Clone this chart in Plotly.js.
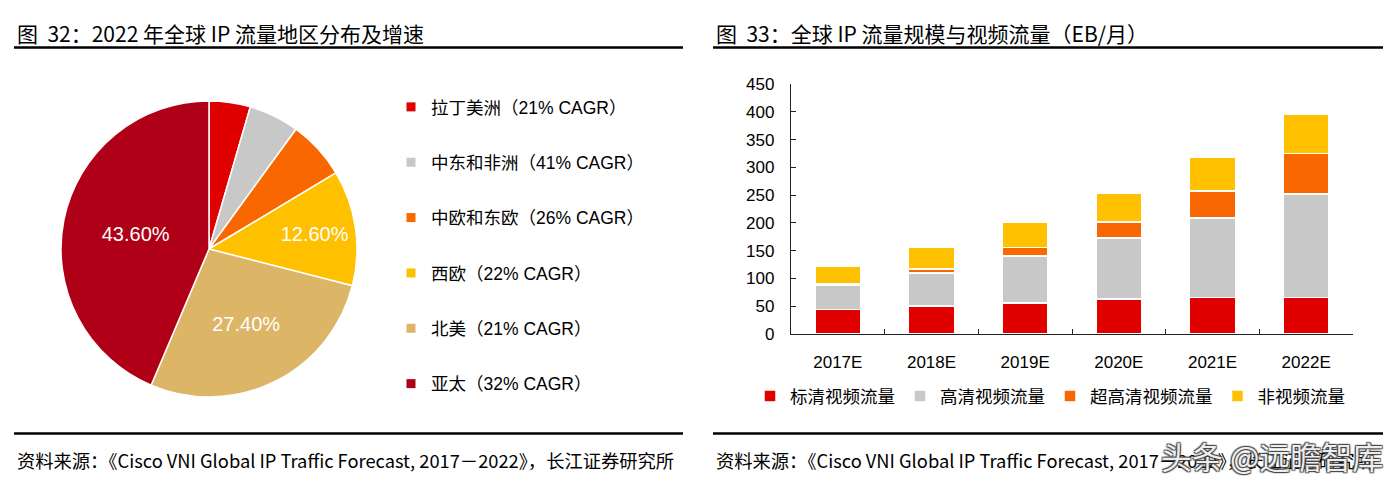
<!DOCTYPE html>
<html>
<head>
<meta charset="utf-8">
<script src="https://cdn.plot.ly/plotly-3.0.1.min.js"></script>
<style>
html,body{margin:0;padding:0;background:#fff;}
#chart{width:1397px;height:483px;}
</style>
</head>
<body>
<div id="chart"></div>
<script>
// ---------- data ----------
const regionLabels = ['拉丁美洲', '中东和非洲', '中欧和东欧', '西欧', '北美', '亚太'];
const regionCagr = ['21%', '41%', '26%', '22%', '21%', '32%'];
const regionShare = [4.5, 5.5, 6.4, 12.6, 27.4, 43.6];
const regionColors = ['#E00000', '#C8C8C8', '#F96800', '#FFC000', '#DDB566', '#B00018'];

const years = ['2017E', '2018E', '2019E', '2020E', '2021E', '2022E'];
const seriesNames = ['标清视频流量', '高清视频流量', '超高清视频流量', '非视频流量'];
const sdVideo = [44, 50, 56, 63, 66, 66];
const hdVideo = [44, 60, 84, 110, 143, 186];
const uhdVideo = [2, 7, 16, 29, 48, 73];
const nonVideo = [32, 39, 45, 52, 62, 71];
const seriesColors = ['#E00000', '#C8C8C8', '#F96800', '#FFC000'];
const yTicks = [0, 50, 100, 150, 200, 250, 300, 350, 400, 450];

const leftTitle = '图  32：2022 年全球 IP 流量地区分布及增速';
const rightTitle = '图  33：全球 IP 流量规模与视频流量（EB/月）';
const sourceText = '资料来源：《Cisco VNI Global IP Traffic Forecast, 2017－2022》，长江证券研究所';
const watermark = '头条 @远瞻智库';

// ---------- helpers ----------
const W = 1397, H = 483;
const px = v => v / W;
const py = v => 1 - v / H;
const narrow = '"Noto Sans CJK SC", sans-serif';
const cjk = '"Noto Sans CJK SC", "Microsoft YaHei", sans-serif';
const arial = '"Liberation Sans", Arial, "Noto Sans CJK SC", sans-serif';

const traces = [];

// pie
traces.push({
  type: 'pie',
  labels: regionLabels,
  values: regionShare,
  text: regionShare.map(v => v > 10 ? v.toFixed(2) + '%' : ''),
  textinfo: 'text',
  textposition: 'inside',
  insidetextorientation: 'horizontal',
  textfont: {family: arial, size: 20, color: '#ffffff'},
  marker: {colors: regionColors, line: {color: '#ffffff', width: 1.5}},
  sort: false,
  direction: 'clockwise',
  rotation: 0,
  showlegend: false,
  hoverinfo: 'label+percent',
  domain: {x: [px(61), px(357)], y: [py(397), py(101)]}
});

// pie legend (dummy entries)
regionLabels.forEach((lab, i) => {
  traces.push({
    type: 'scatter', mode: 'markers',
    x: [null], y: [null],
    name: lab + '（' + regionCagr[i] + ' CAGR）',
    legendgroup: 'g' + i,
    marker: {symbol: 'square', size: 9, color: regionColors[i]},
    legend: 'legend',
    showlegend: true,
    hoverinfo: 'skip'
  });
});

// stacked bars
[sdVideo, hdVideo, uhdVideo, nonVideo].forEach((arr, i) => {
  traces.push({
    type: 'bar',
    x: years, y: arr,
    name: seriesNames[i],
    marker: {color: seriesColors[i], line: {color: '#ffffff', width: 1.5}},
    legend: 'legend2',
    hovertemplate: '%{x} ' + seriesNames[i] + ': %{y}<extra></extra>'
  });
});

const lineStyle = {color: '#000000', width: 2.5};
const layout = {
  width: W, height: H,
  margin: {l: 0, r: 0, t: 0, b: 0},
  paper_bgcolor: '#ffffff',
  plot_bgcolor: '#ffffff',
  barmode: 'stack',
  bargap: 0.51,
  xaxis: {
    domain: [px(791), px(1353)],
    type: 'category',
    showline: true, linecolor: '#222222', linewidth: 1.3,
    ticks: 'inside', ticklen: 5, tickcolor: '#222222', tickwidth: 1.3,
    tickson: 'boundaries',
    showgrid: false, zeroline: false,
    ticklabelstandoff: 12,
    tickfont: {family: arial, size: 17, color: '#000000'},
    fixedrange: true
  },
  yaxis: {
    domain: [py(334), py(84)],
    range: [0, 450],
    tickvals: yTicks,
    showline: true, linecolor: '#222222', linewidth: 1.3,
    ticks: 'inside', ticklen: 5, tickcolor: '#222222', tickwidth: 1.3,
    showgrid: false, zeroline: false,
    ticklabelstandoff: 12,
    tickfont: {family: arial, size: 17, color: '#000000'},
    fixedrange: true
  },
  legend: {
    x: px(391), xanchor: 'left',
    y: py(89), yanchor: 'top',
    orientation: 'v',
    tracegroupgap: 29.6,
    font: {family: arial, size: 17.5, color: '#000000'},
    bgcolor: 'rgba(0,0,0,0)',
    itemclick: false, itemdoubleclick: false
  },
  legend2: {
    x: px(750), xanchor: 'left',
    y: py(396), yanchor: 'middle',
    orientation: 'h',
    traceorder: 'normal',
    font: {family: cjk, size: 17.5, color: '#000000'},
    bgcolor: 'rgba(0,0,0,0)',
    itemclick: false, itemdoubleclick: false
  },
  shapes: [
    {type: 'line', xref: 'paper', yref: 'paper', x0: px(14), x1: px(683), y0: py(47.5), y1: py(47.5), line: lineStyle},
    {type: 'line', xref: 'paper', yref: 'paper', x0: px(713), x1: px(1383), y0: py(47.5), y1: py(47.5), line: lineStyle},
    {type: 'line', xref: 'paper', yref: 'paper', x0: px(14), x1: px(683), y0: py(433.5), y1: py(433.5), line: lineStyle},
    {type: 'line', xref: 'paper', yref: 'paper', x0: px(713), x1: px(1383), y0: py(433.5), y1: py(433.5), line: lineStyle}
  ],
  annotations: [
    {text: leftTitle, xref: 'paper', yref: 'paper', x: px(15), y: py(33), xanchor: 'left', yanchor: 'middle', showarrow: false,
     font: {family: narrow, size: 21, color: '#000000'}},
    {text: rightTitle, xref: 'paper', yref: 'paper', x: px(714), y: py(33), xanchor: 'left', yanchor: 'middle', showarrow: false,
     font: {family: narrow, size: 21, color: '#000000'}},
    {text: sourceText, xref: 'paper', yref: 'paper', x: px(15), y: py(460), xanchor: 'left', yanchor: 'middle', showarrow: false,
     font: {family: narrow, size: 18.3, color: '#000000'}},
    {text: sourceText, xref: 'paper', yref: 'paper', x: px(714), y: py(460), xanchor: 'left', yanchor: 'middle', showarrow: false,
     font: {family: narrow, size: 18.3, color: '#000000'}},
    {text: watermark, xref: 'paper', yref: 'paper', x: px(1385), y: py(455), xanchor: 'right', yanchor: 'middle', showarrow: false,
     font: {family: cjk, size: 31, color: 'rgba(255,255,255,0.92)', shadow: '1px 1px 1px #444, -1px -1px 1px #444, 1px -1px 1px #444, -1px 1px 1px #444'}}
  ]
};

Plotly.newPlot('chart', traces, layout, {displayModeBar: false});
</script>
</body>
</html>
